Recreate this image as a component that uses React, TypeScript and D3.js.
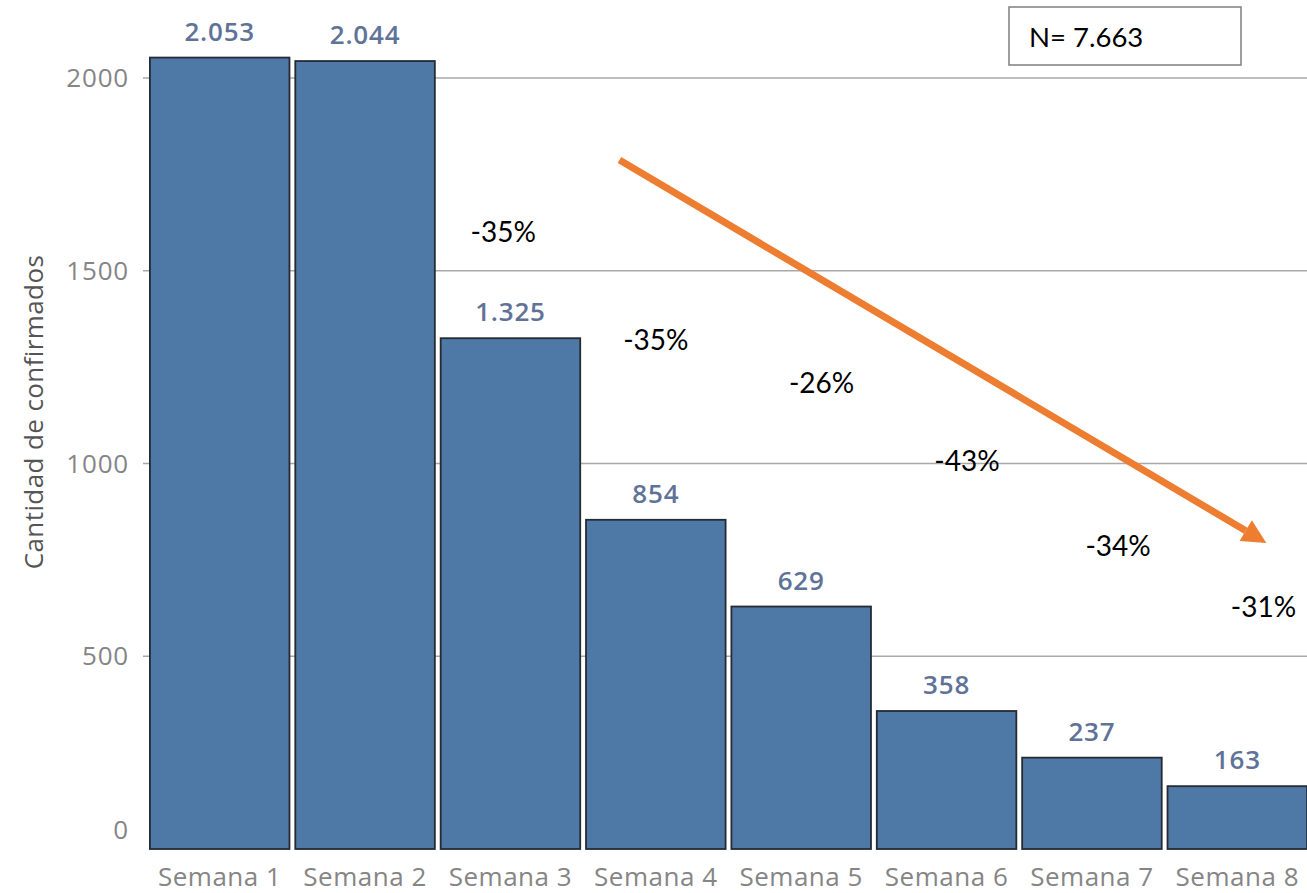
import React, { useEffect, useRef } from 'react';
import * as d3 from 'd3';

const weeks = ['Semana 1', 'Semana 2', 'Semana 3', 'Semana 4', 'Semana 5', 'Semana 6', 'Semana 7', 'Semana 8'];
const confirmed = [2053, 2044, 1325, 854, 629, 358, 237, 163];
const changes = ['-35%', '-35%', '-26%', '-43%', '-34%', '-31%'];
const yTicks = [0, 500, 1000, 1500, 2000];
const total = '7.663';

// annotation anchors in data space: [band position, value]
const changeAnchors = [[2.43, 1600], [3.48, 1320], [4.62, 1208], [5.62, 1006], [6.66, 786], [7.66, 628]];
const trendArrow = [[3.23, 1787], [7.68, 794]];

const W = 1307;
const H = 893;

export default function App() {
  const ref = useRef<SVGSVGElement>(null);

  useEffect(() => {
    const svg = d3.select(ref.current);
    svg.selectAll('*').remove();

    const x = d3.scaleBand().domain(weeks).range([147, 1310]).paddingInner(0.04).paddingOuter(0.02);
    const y = d3.scaleLinear().domain([0, 2000]).range([849, 78]);
    const pos = (p: number) => (x(weeks[0]) as number) + p * x.step();

    const fmt = (v: number) => d3.format(',')(v).replace(/,/g, '.');

    // gridlines
    svg.append('g')
      .selectAll('line')
      .data(yTicks.filter(t => t > 0))
      .enter().append('line')
      .attr('x1', 143).attr('x2', W)
      .attr('y1', d => y(d)).attr('y2', d => y(d))
      .attr('stroke', '#a9a9a9')
      .attr('stroke-width', 1.5);

    // y tick labels
    svg.append('g')
      .selectAll('text')
      .data(yTicks)
      .enter().append('text')
      .attr('x', 129)
      .attr('y', d => (d === 0 ? y(d) - 19 : y(d)))
      .attr('dy', '0.35em')
      .attr('text-anchor', 'end')
      .attr('fill', '#858585')
      .style('font-family', '"Open Sans", sans-serif')
      .style('font-size', '26px')
      .style('letter-spacing', '0.8px')
      .text(d => d);

    svg.append('text')
      .attr('transform', `translate(43,${412}) rotate(-90)`)
      .attr('text-anchor', 'middle')
      .attr('fill', '#555')
      .style('font-family', '"Open Sans", sans-serif')
      .style('font-size', '26px')
      .style('letter-spacing', '0.4px')
      .text('Cantidad de confirmados');

    // bars
    svg.append('g')
      .selectAll('rect')
      .data(confirmed)
      .enter().append('rect')
      .attr('x', (d, i) => x(weeks[i]) as number)
      .attr('y', d => y(d))
      .attr('width', x.bandwidth())
      .attr('height', d => y(0) - y(d))
      .attr('fill', '#4e78a6')
      .attr('stroke', '#252a33')
      .attr('stroke-width', 1.8);

    // value labels
    svg.append('g')
      .selectAll('text')
      .data(confirmed)
      .enter().append('text')
      .attr('x', (d, i) => (x(weeks[i]) as number) + x.bandwidth() / 2)
      .attr('y', d => y(d) - 17)
      .attr('text-anchor', 'middle')
      .attr('fill', '#5f7398')
      .style('font-family', '"Open Sans", sans-serif')
      .style('font-size', '26px')
      .style('font-weight', '600')
      .style('letter-spacing', '0.8px')
      .text(d => fmt(d));

    // x labels
    svg.append('g')
      .selectAll('text')
      .data(weeks)
      .enter().append('text')
      .attr('x', d => (x(d) as number) + x.bandwidth() / 2)
      .attr('y', 886)
      .attr('text-anchor', 'middle')
      .attr('fill', '#858585')
      .style('font-family', '"Open Sans", sans-serif')
      .style('font-size', '26px')
      .style('letter-spacing', '0.5px')
      .text(d => d);

    // trend arrow
    const [[p0, v0], [p1, v1]] = trendArrow;
    const x0 = pos(p0), y0 = y(v0), x1 = pos(p1), y1 = y(v1);
    const ang = Math.atan2(y1 - y0, x1 - x0);
    const headL = 24, headW = 12;
    const bx = x1 - headL * Math.cos(ang), by = y1 - headL * Math.sin(ang);
    svg.append('line')
      .attr('x1', x0).attr('y1', y0).attr('x2', bx).attr('y2', by)
      .attr('stroke', '#ed7d31')
      .attr('stroke-width', 7);
    const nx = -Math.sin(ang), ny = Math.cos(ang);
    svg.append('path')
      .attr('d', d3.line()([
        [x1, y1],
        [bx + nx * headW, by + ny * headW],
        [bx - nx * headW, by - ny * headW],
      ]) + 'Z')
      .attr('fill', '#ed7d31');

    // change labels
    svg.append('g')
      .selectAll('text')
      .data(changes)
      .enter().append('text')
      .attr('x', (d, i) => pos(changeAnchors[i][0]))
      .attr('y', (d, i) => y(changeAnchors[i][1]))
      .attr('dy', '0.35em')
      .attr('text-anchor', 'middle')
      .attr('fill', '#000')
      .style('font-family', 'Lato, sans-serif')
      .style('font-size', '28px')
      .text(d => d);

    // N box
    svg.append('rect')
      .attr('x', 1009).attr('y', 7)
      .attr('width', 232).attr('height', 58)
      .attr('fill', '#fff')
      .attr('stroke', '#7f7f7f')
      .attr('stroke-width', 1.5);
    svg.append('text')
      .attr('x', 1029).attr('y', 47)
      .attr('fill', '#000')
      .style('font-family', 'Lato, sans-serif')
      .style('font-size', '27.5px')
      .text(`N= ${total}`);
  }, []);

  return (
    <svg ref={ref} width={W} height={H}
      style={{ position: 'absolute', left: 0, top: 0, background: '#fff' }} />
  );
}
